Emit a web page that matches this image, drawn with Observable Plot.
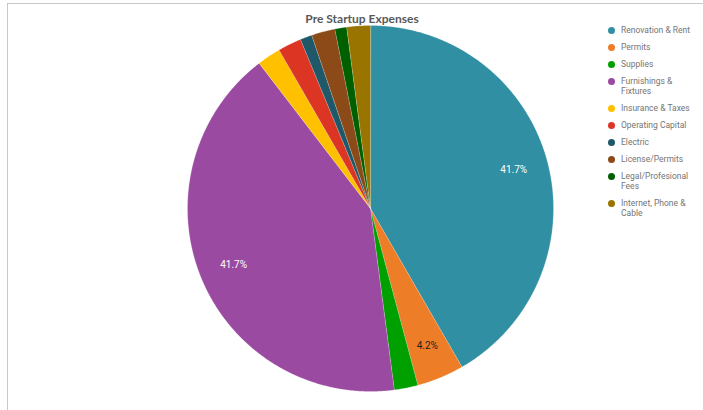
<!DOCTYPE html>
<html>
<head>
<meta charset="utf-8">
<script src="https://cdn.jsdelivr.net/npm/d3@7"></script>
<script src="https://cdn.jsdelivr.net/npm/@observablehq/plot@0.6"></script>
<style>
  html, body { margin: 0; padding: 0; background: #fff; }
  #wrap { position: relative; width: 703px; height: 410px; overflow: hidden; }
  #frame { position: absolute; left: 7px; top: 3px; width: 720px; height: 430px; border-left: 1px solid #c8c8c8; border-top: 1px solid #c8c8c8; box-sizing: border-box; }
  #title { position: absolute; left: 0; width: 724px; top: 11px; text-align: center; font: bold 12px "Lato", "Open Sans", sans-serif; color: #595959; }
  #legend { position: absolute; left: 606px; top: 25px; font: 8.5px Roboto, sans-serif; color: #757575; }
  .item { display: flex; align-items: flex-start; margin-bottom: 7px; width: 95px; line-height: 10px; }
  .sw { width: 7px; height: 7px; border-radius: 50%; flex: none; margin: 2px 6px 0 2px; }
  #chart { position: absolute; left: 0; top: 0; }
</style>
</head>
<body>
<div id="wrap">
  <div id="frame"></div>
  <div id="chart"></div>
  <div id="title">Pre Startup Expenses</div>
  <div id="legend"></div>
</div>
<script>
const categories = ["Renovation & Rent", "Permits", "Supplies", "Furnishings & Fixtures", "Insurance & Taxes", "Operating Capital", "Electric", "License/Permits", "Legal/Profesional Fees", "Internet, Phone & Cable"];
const legendLabels = ["Renovation & Rent", "Permits", "Supplies", "Furnishings &\nFixtures", "Insurance & Taxes", "Operating Capital", "Electric", "License/Permits", "Legal/Profesional\nFees", "Internet, Phone &\nCable"];
const values = [10000, 1000, 500, 10000, 500, 500, 250, 500, 250, 500];
const colors = ["#318fa4", "#ed7d27", "#00a000", "#9b4aa1", "#ffc000", "#dd3524", "#1f5868", "#8b4a17", "#006000", "#997500"];
const shownLabels = [true, true, false, true, false, false, false, false, false, false];
const labelColors = ["#ffffff", "#222222", "#ffffff", "#ffffff", "#222222", "#ffffff", "#ffffff", "#ffffff", "#ffffff", "#222222"];

const total = d3.sum(values);
const arcs = d3.pie().sort(null).value(d => d)(values);

// polygon outlines of each sector in unit coordinates (angle clockwise from top)
const sectorPts = [];
arcs.forEach((a, i) => {
  const n = Math.max(4, Math.ceil((a.endAngle - a.startAngle) / 0.005));
  sectorPts.push({cat: categories[i], x: 0, y: 0, k: -1});
  for (let j = 0; j <= n; j++) {
    const t = a.startAngle + (a.endAngle - a.startAngle) * j / n;
    sectorPts.push({cat: categories[i], x: Math.sin(t), y: Math.cos(t), k: j});
  }
});

const labels = arcs.map((a, i) => {
  const m = (a.startAngle + a.endAngle) / 2;
  return {cat: categories[i], x: 0.81 * Math.sin(m), y: 0.81 * Math.cos(m),
          text: (values[i] / total * 100).toFixed(1) + "%", show: shownLabels[i], color: labelColors[i]};
}).filter(d => d.show);

const plot = Plot.plot({
  width: 703,
  height: 410,
  marginLeft: 187,
  marginRight: 150,
  marginTop: 25,
  marginBottom: 19,
  x: {domain: [-1, 1], axis: null},
  y: {domain: [-1, 1], axis: null},
  color: {domain: categories, range: colors},
  style: {background: "transparent"},
  marks: [
    Plot.line(sectorPts, {x: "x", y: "y", z: "cat", fill: "cat", stroke: "#ffffff", strokeWidth: 0.4, strokeOpacity: 0.5, curve: "linear-closed"}),
    Plot.text(labels, {x: "x", y: "y", text: "text", fill: d => d.color, fontSize: 10, fontFamily: "Roboto, sans-serif"})
  ]
});
document.getElementById("chart").appendChild(plot);

const legend = document.getElementById("legend");
categories.forEach((c, i) => {
  const item = document.createElement("div");
  item.className = "item";
  const sw = document.createElement("span");
  sw.className = "sw";
  sw.style.background = colors[i];
  const tx = document.createElement("span");
  tx.style.whiteSpace = "pre";
  tx.textContent = legendLabels[i];
  item.appendChild(sw);
  item.appendChild(tx);
  legend.appendChild(item);
});
</script>
</body>
</html>
